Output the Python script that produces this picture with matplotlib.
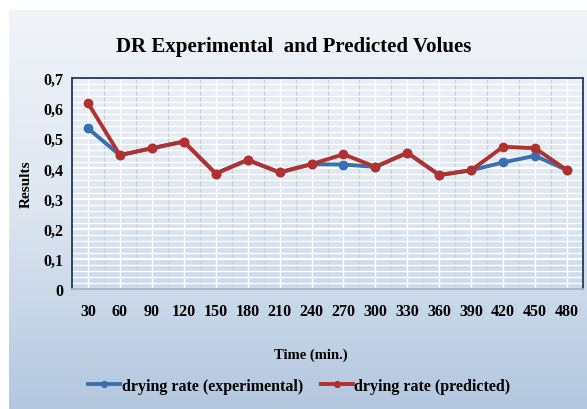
import numpy as np
import matplotlib
matplotlib.use("Agg")
import matplotlib.pyplot as plt
from matplotlib.ticker import MultipleLocator, FuncFormatter
from matplotlib.colors import LinearSegmentedColormap

# data
times = [30, 60, 90, 120, 150, 180, 210, 240, 270, 300, 330, 360, 390, 420, 450, 480]
dr_experimental = [0.533, 0.444, 0.467, 0.489, 0.383, 0.428, 0.387, 0.414, 0.413,
                   0.405, 0.452, 0.378, 0.394, 0.420, 0.442, 0.394]
dr_predicted = [0.617, 0.444, 0.467, 0.489, 0.383, 0.428, 0.387, 0.414, 0.447,
                0.405, 0.452, 0.378, 0.394, 0.472, 0.467, 0.394]

plt.rcParams['font.family'] = ['Liberation Serif', 'DejaVu Serif']
plt.rcParams['font.weight'] = 'bold'
plt.rcParams['axes.labelweight'] = 'bold'

fig = plt.figure(figsize=(5.87, 4.10), dpi=100)
fig.patch.set_facecolor('white')

# gradient background of the chart box
bg = fig.add_axes([9 / 587, 0, 1 - 9 / 587, 1 - 11 / 410], zorder=0)
grad = np.linspace(0, 1, 256).reshape(-1, 1)
cmap = LinearSegmentedColormap.from_list('bg', ['#f1f4f9', '#dde6f1', '#b3c7df'])
bg.imshow(grad, aspect='auto', cmap=cmap, extent=[0, 1, 0, 1], origin='upper')
bg.set_axis_off()

ax = fig.add_axes([72 / 587, 1 - 290 / 410, (583 - 72) / 587, (290 - 79) / 410], zorder=1)
ax.patch.set_alpha(0)
x = np.arange(len(times))

ax.plot(x, dr_experimental, color='#3a6fb0', lw=2.8, marker='o', ms=6,
        label='drying rate (experimental)', zorder=3)
ax.plot(x, dr_predicted, color='#b0312d', lw=2.8, marker='o', ms=6,
        label='drying rate (predicted)', zorder=4)

ax.set_xlim(-0.5, len(times) - 0.5)
ax.set_ylim(0, 0.7)
ax.set_xticks(x)
ax.set_xticklabels([str(t) for t in times])
ax.yaxis.set_major_locator(MultipleLocator(0.1))
ax.yaxis.set_minor_locator(MultipleLocator(0.02))
ax.yaxis.set_major_formatter(FuncFormatter(lambda v, p: '0' if v == 0 else ('%.1f' % v).replace('.', ',')))
ax.xaxis.set_minor_locator(MultipleLocator(0.5))

ax.grid(which='major', axis='y', color='white', lw=1.6)
ax.grid(which='minor', axis='y', color='white', lw=1.0)
ax.grid(which='major', axis='x', color='white', lw=1.0)
ax.grid(which='minor', axis='x', color='#c8d0dc', lw=0.8)
ax.set_axisbelow(True)

for s in ax.spines.values():
    s.set_color('#22395a')
    s.set_linewidth(1.3)
ax.spines['bottom'].set_color('#9fb3cc')

ax.tick_params(which='both', length=0)
ax.tick_params(axis='x', labelsize=11.5, pad=10)
ax.tick_params(axis='y', labelsize=11.5, pad=6)

ax.set_ylabel('Results', fontsize=11, labelpad=8)
fig.text(0.5, 0.885, 'DR Experimental  and Predicted Volues', ha='center', va='center',
         fontsize=15, fontweight='bold')
fig.text(0.53, 0.134, 'Time (min.)', ha='center', va='center', fontsize=10.5, fontweight='bold')

fig.legend(loc='center', bbox_to_anchor=(0.51, 0.056), ncol=2, frameon=False,
           fontsize=11.5, handlelength=2.0, handletextpad=0.1, columnspacing=1.1,
           markerscale=0.7)

fig.savefig('out.png', dpi=100)
